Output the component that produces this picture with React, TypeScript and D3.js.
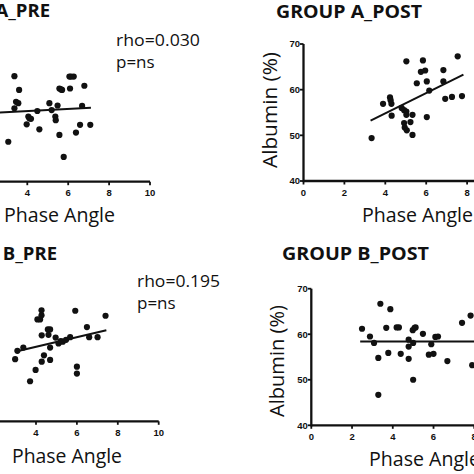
import React from "react";
import * as d3 from "d3";

// ---------- DATA ----------
const xTicks = [0, 2, 4, 6, 8, 10];
const yTicks = [40, 50, 60, 70];

const aPreX = [3.07, 3.37, 3.37, 3.45, 3.56, 3.6, 3.97, 4.05, 4.1, 4.18, 4.49, 4.59, 5.08, 5.19, 5.37, 5.39, 5.48, 5.57, 5.57, 5.65, 5.7, 5.78, 6.06, 6.14, 6.27, 6.09, 6.38, 6.58, 6.68, 6.79, 7.08];
const aPreY = [48.7, 63.0, 56.0, 57.4, 57.1, 60.0, 52.5, 54.2, 53.8, 53.7, 55.4, 51.4, 57.1, 55.6, 54.2, 53.4, 56.6, 50.2, 60.3, 60.1, 60.0, 45.4, 62.9, 62.9, 62.9, 60.3, 50.7, 52.4, 56.5, 60.9, 52.4];
const aPreFit = [[2.5, 55.06], [7.11, 56.1]];

const aPostX = [3.33, 3.89, 4.23, 4.26, 4.3, 4.31, 4.8, 4.92, 5.03, 5.03, 4.92, 4.95, 5.05, 5.33, 5.23, 5.33, 5.03, 5.54, 5.74, 5.84, 5.95, 6.03, 6.15, 6.03, 6.84, 6.84, 6.93, 7.26, 7.54, 7.75];
const aPostY = [49.4, 56.9, 58.3, 57.7, 56.9, 54.3, 56.0, 55.5, 55.2, 54.5, 52.7, 51.7, 51.1, 54.5, 52.9, 50.1, 66.2, 61.4, 63.9, 66.4, 64.2, 61.8, 59.8, 54.0, 64.3, 61.8, 58.0, 58.4, 67.3, 58.6];
const aPostFit = [[3.28, 53.2], [7.82, 63.3]];

const bPreX = [2.98, 3.09, 3.38, 3.71, 3.98, 4.07, 4.2, 4.27, 4.27, 4.28, 4.28, 4.39, 4.58, 4.69, 4.61, 4.69, 4.69, 4.96, 5.1, 5.21, 5.31, 5.47, 5.67, 5.92, 6.0, 6.0, 6.49, 6.6, 7.01, 7.4];
const bPreY = [53.65, 55.5, 56.2, 48.8, 51.3, 62.4, 62.4, 64.4, 63.3, 58.9, 53.1, 54.5, 60.2, 60.2, 59.0, 56.2, 53.5, 58.4, 57.1, 57.6, 57.5, 57.9, 58.5, 64.3, 52.0, 50.5, 60.7, 58.5, 58.5, 63.2];
const bPreFit = [[2.97, 55.3], [7.44, 60.0]];

const bPostX = [2.49, 2.88, 3.08, 3.29, 3.29, 3.39, 3.68, 3.78, 3.88, 4.19, 4.3, 4.39, 4.78, 4.78, 4.78, 4.98, 5.07, 5.0, 5.0, 5.12, 5.48, 5.89, 5.77, 6.0, 6.09, 6.22, 6.68, 7.4, 7.82, 7.9];
const bPostY = [61.2, 59.5, 58.1, 54.8, 46.7, 66.7, 61.4, 55.9, 65.5, 61.5, 61.5, 55.7, 58.8, 57.3, 54.6, 60.9, 61.4, 58.1, 50.0, 61.5, 60.1, 57.8, 55.5, 55.7, 59.4, 59.5, 54.1, 62.5, 64.1, 53.2];
const bPostFit = [[2.4, 58.4], [8.6, 58.4]];

const titles = ["GROUP A_PRE", "GROUP A_POST", "GROUP B_PRE", "GROUP B_POST"];
const rhoLabels = ["rho=0.030", "rho=0.195"];
const pLabel = "p=ns";
const xLabel = "Phase Angle";
const yLabel = "Albumin (%)";

// ---------- LAYOUT ----------
const W = 474;
const H = 474;
const TICK_FONT = "'Liberation Sans', Arial, sans-serif";
const TEXT_FONT = "'Open Sans', 'Noto Sans', sans-serif";

type PanelProps = {
  xs: number[];
  ys: number[];
  fit: number[][];
  x0: number;
  x1: number;
  yB: number;
  yT: number;
};

function Panel({ xs, ys, fit, x0, x1, yB, yT }: PanelProps) {
  const x = d3.scaleLinear().domain([0, 10]).range([x0, x1]);
  const y = d3.scaleLinear().domain([40, 70]).range([yB, yT]);
  const line = d3
    .line<number[]>()
    .x((d) => x(d[0]))
    .y((d) => y(d[1]));
  const visX = xTicks.filter((t) => x(t) > -4 && x(t) < W + 4);
  const showY = x(0) > 0;
  return (
    <g>
      {/* axes */}
      <line x1={x(0)} x2={x(10)} y1={y(40)} y2={y(40)} stroke="#111" strokeWidth={2.3} />
      <line x1={x(0)} x2={x(0)} y1={y(40) + 1.1} y2={y(70)} stroke="#111" strokeWidth={2.3} />
      {visX.map((t) => (
        <g key={"xt" + t}>
          <line x1={x(t)} x2={x(t)} y1={y(40)} y2={y(40) + 3.5} stroke="#111" strokeWidth={1.8} />
          <text
            x={x(t)}
            y={y(40) + 14.5}
            textAnchor="middle"
            fontFamily={TICK_FONT}
            fontWeight="bold"
            fontSize={9.5}
            fill="#111"
          >
            {t}
          </text>
        </g>
      ))}
      {showY &&
        yTicks.map((t) => (
          <g key={"yt" + t}>
            <line x1={x(0) - 3.5} x2={x(0)} y1={y(t)} y2={y(t)} stroke="#111" strokeWidth={1.8} />
            <text
              x={x(0) - 3.5}
              y={y(t) + 3.4}
              textAnchor="end"
              fontFamily={TICK_FONT}
              fontWeight="bold"
              fontSize={9.5}
              fill="#111"
            >
              {t}
            </text>
          </g>
        ))}
      {/* fit line */}
      <path d={line(fit) || ""} fill="none" stroke="#111" strokeWidth={2} />
      {/* points */}
      {xs.map((v, i) => (
        <circle key={i} cx={x(v)} cy={y(ys[i])} r={3.1} fill="#111" />
      ))}
    </g>
  );
}

export default function App() {
  return (
    <svg
      width={W}
      height={H}
      viewBox={`0 0 ${W} ${H}`}
      style={{ position: "absolute", left: 0, top: 0, background: "#fff" }}
    >
      <rect x={0} y={0} width={W} height={H} fill="#fff" />

      {/* Panel A_PRE */}
      <Panel xs={aPreX} ys={aPreY} fit={aPreFit} x0={-54.5} x1={150} yB={181.7} yT={44} />
      <text x={50} y={17} textAnchor="end" fontFamily={TEXT_FONT} fontWeight="bold" fontSize={18.5} fill="#111">
        {titles[0]}
      </text>
      <text x={116} y={46} fontFamily={TEXT_FONT} fontSize={17} fill="#111" textLength={84} lengthAdjust="spacingAndGlyphs">
        {rhoLabels[0]}
      </text>
      <text x={116} y={68} fontFamily={TEXT_FONT} fontSize={17} fill="#111">
        {pLabel}
      </text>
      <text x={4} y={222} fontFamily={TEXT_FONT} fontSize={20} fill="#111" textLength={111} lengthAdjust="spacingAndGlyphs">
        {xLabel}
      </text>

      {/* Panel A_POST */}
      <Panel xs={aPostX} ys={aPostY} fit={aPostFit} x0={303.5} x1={508} yB={181} yT={44} />
      <text x={276} y={18} fontFamily={TEXT_FONT} fontWeight="bold" fontSize={18.5} fill="#111" textLength={146} lengthAdjust="spacingAndGlyphs">
        {titles[1]}
      </text>
      <text x={362} y={222} fontFamily={TEXT_FONT} fontSize={20} fill="#111" textLength={111} lengthAdjust="spacingAndGlyphs">
        {xLabel}
      </text>
      <text
        transform="translate(276.5,110) rotate(-90)"
        textAnchor="middle"
        fontFamily={TEXT_FONT}
        fontSize={20}
        fill="#111"
        textLength={116}
        lengthAdjust="spacingAndGlyphs"
      >
        {yLabel}
      </text>

      {/* Panel B_PRE */}
      <Panel xs={bPreX} ys={bPreY} fit={bPreFit} x0={-45.8} x1={158.7} yB={421.3} yT={284.8} />
      <text x={57} y={260} textAnchor="end" fontFamily={TEXT_FONT} fontWeight="bold" fontSize={18.5} fill="#111">
        {titles[2]}
      </text>
      <text x={137} y={286.5} fontFamily={TEXT_FONT} fontSize={17} fill="#111" textLength={83} lengthAdjust="spacingAndGlyphs">
        {rhoLabels[1]}
      </text>
      <text x={137} y={309} fontFamily={TEXT_FONT} fontSize={17} fill="#111">
        {pLabel}
      </text>
      <text x={12} y={463} fontFamily={TEXT_FONT} fontSize={20} fill="#111" textLength={110} lengthAdjust="spacingAndGlyphs">
        {xLabel}
      </text>

      {/* Panel B_POST */}
      <Panel xs={bPostX} ys={bPostY} fit={bPostFit} x0={311.3} x1={515} yB={425.3} yT={288.7} />
      <text x={282} y={260} fontFamily={TEXT_FONT} fontWeight="bold" fontSize={18.5} fill="#111" textLength={147} lengthAdjust="spacingAndGlyphs">
        {titles[3]}
      </text>
      <text x={369} y={466} fontFamily={TEXT_FONT} fontSize={20} fill="#111" textLength={111} lengthAdjust="spacingAndGlyphs">
        {xLabel}
      </text>
      <text
        transform="translate(283.5,361) rotate(-90)"
        textAnchor="middle"
        fontFamily={TEXT_FONT}
        fontSize={20}
        fill="#111"
        textLength={112}
        lengthAdjust="spacingAndGlyphs"
      >
        {yLabel}
      </text>
    </svg>
  );
}
